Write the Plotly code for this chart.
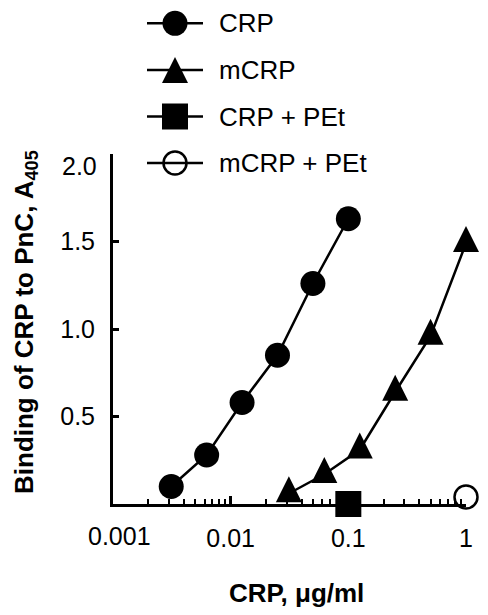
import plotly.graph_objects as go

# ---------------- data ----------------
crp_conc = [0.003125, 0.00625, 0.0125, 0.025, 0.05, 0.1]
crp_a405 = [0.10, 0.28, 0.58, 0.85, 1.26, 1.63]

mcrp_conc = [0.03125, 0.0625, 0.125, 0.25, 0.5, 1.0]
mcrp_a405 = [0.06, 0.17, 0.31, 0.64, 0.96, 1.49]

crp_pet_conc = [0.1]
crp_pet_a405 = [0.0]

mcrp_pet_conc = [1.0]
mcrp_pet_a405 = [0.04]

series_names = ["CRP", "mCRP", "CRP + PEt", "mCRP + PEt"]

x_tick_vals = [0.001, 0.01, 0.1, 1]
x_tick_text = ["0.001", "0.01", "0.1", "1"]
y_tick_vals = [0.5, 1.0, 1.5, 2.0]
y_tick_text = ["0.5", "1.0", "1.5", "2.0"]

x_title = "<b>CRP, μg/ml</b>"
y_title = "<b>Binding of CRP to PnC, A<sub>405</sub></b>"

# ---------------- styles ----------------
FONT = "Liberation Sans, Arial, sans-serif"
FS = 25        # tick labels
FS_TXT = 26    # legend and axis titles
LW = 2.5
TRI_SIZE = 26
marker_styles = [
    dict(symbol="circle", size=25, color="black", line=dict(width=0)),
    dict(symbol="arrow-down", size=TRI_SIZE, angle=180, standoff=TRI_SIZE / 2 * 4 / 3,
         color="black", line=dict(width=0)),
    dict(symbol="square", size=26, color="black", line=dict(width=0)),
    dict(symbol="circle-open", size=23, color="black", line=dict(width=2.5, color="black")),
]
legend_marker_styles = [dict(m) for m in marker_styles]
legend_marker_styles[1]["standoff"] = TRI_SIZE / 2

xs = [crp_conc, mcrp_conc, crp_pet_conc, mcrp_pet_conc]
ys = [crp_a405, mcrp_a405, crp_pet_a405, mcrp_pet_a405]

fig = go.Figure()
for name, x, y, m in zip(series_names, xs, ys, marker_styles):
    fig.add_trace(go.Scatter(
        x=x, y=y, name=name, mode="lines+markers",
        line=dict(color="black", width=LW), marker=m,
        cliponaxis=False, showlegend=False,
    ))

# custom legend drawn on its own hidden axes (pixel-like units)
LEG_LINE = [147, 203]
LEG_MARK = 175
LEG_TEXT = 217
for i, (name, m) in enumerate(zip(series_names, legend_marker_styles)):
    fig.add_trace(go.Scatter(
        x=LEG_LINE, y=[i, i], mode="lines", line=dict(color="black", width=LW),
        xaxis="x2", yaxis="y2", showlegend=False, hoverinfo="skip", cliponaxis=False,
    ))
    fig.add_trace(go.Scatter(
        x=[LEG_MARK], y=[i], mode="markers", marker=m,
        xaxis="x2", yaxis="y2", showlegend=False, hoverinfo="skip", cliponaxis=False,
    ))
    fig.add_annotation(
        x=LEG_TEXT, y=i, xref="x2", yref="y2", text=name, showarrow=False,
        xanchor="left", yanchor="middle", font=dict(family=FONT, size=FS_TXT, color="black"),
    )

W, H = 488, 615
ML, MR, MT, MB = 113, 22, 0, 111
plot_h = H - MT - MB
main_top_px = 154
leg_bottom_px = 186.4

X_LABEL_STANDOFF = 10
TICK = dict(ticks="inside", tickcolor="black")

fig.update_layout(
    width=W, height=H,
    margin=dict(l=ML, r=MR, t=MT, b=MB, pad=0, autoexpand=False),
    paper_bgcolor="white", plot_bgcolor="white",
    font=dict(family=FONT, size=FS, color="black"),
    showlegend=False,
    xaxis=dict(
        type="log", range=[-3, 0], domain=[0, 1], anchor="y", automargin=False,
        tickvals=x_tick_vals[1:], ticktext=x_tick_text[1:],
        ticklen=8, tickwidth=2.5, **TICK,
        minor=dict(ticklen=5, tickwidth=2, dtick="D1", showgrid=False, **TICK),
        showline=True, linewidth=3, linecolor="black",
        showgrid=False, zeroline=False,
        tickfont=dict(family=FONT, size=FS, color="black"),
        ticklabelstandoff=X_LABEL_STANDOFF,
    ),
    yaxis=dict(
        range=[0, 2], domain=[0, (plot_h - main_top_px) / plot_h], anchor="x", automargin=False,
        tickvals=y_tick_vals[:-1], ticktext=y_tick_text[:-1],
        ticklen=6, tickwidth=3, **TICK,
        minor=dict(tickvals=y_tick_vals[-1:], ticklen=6, tickwidth=3, showgrid=False, **TICK),
        showline=True, linewidth=3, linecolor="black",
        showgrid=False, zeroline=False,
        tickfont=dict(family=FONT, size=FS, color="black"),
        ticklabelstandoff=10,
    ),
    xaxis2=dict(range=[ML, W - MR], domain=[0, 1], anchor="y2", visible=False, fixedrange=True),
    yaxis2=dict(range=[3.5, -0.5], domain=[1 - leg_bottom_px / plot_h, 1], anchor="x2",
                visible=False, fixedrange=True),
)

# tick labels drawn slightly offset in the original (top y label, first x label)
fig.add_annotation(x=0, xref="paper", y=y_tick_vals[-1], yref="y", text=y_tick_text[-1],
                   showarrow=False, xanchor="right", yanchor="middle", xshift=-14, yshift=-12,
                   font=dict(family=FONT, size=FS, color="black"))
fig.add_annotation(x=-3, xref="x", y=0, yref="paper", text=x_tick_text[0],
                   showarrow=False, xanchor="center", yanchor="top", xshift=6, yshift=-16,
                   font=dict(family=FONT, size=FS, color="black"))

# axis titles
fig.add_annotation(x=0.5, xref="x domain", y=0, yref="y domain", text=x_title,
                   showarrow=False, xanchor="center", yanchor="middle", xshift=7, yshift=-89,
                   font=dict(family=FONT, size=FS_TXT, color="black"))
fig.add_annotation(x=0, xref="x domain", y=0.5, yref="y domain", text=y_title, textangle=-90,
                   showarrow=False, xanchor="center", yanchor="middle", xshift=-88, yshift=7,
                   font=dict(family=FONT, size=FS_TXT, color="black"))

fig.write_html(
    "out.html",
    config={"displayModeBar": False},
    post_script="document.body.style.margin='0px';document.body.style.overflow='hidden';",
)
